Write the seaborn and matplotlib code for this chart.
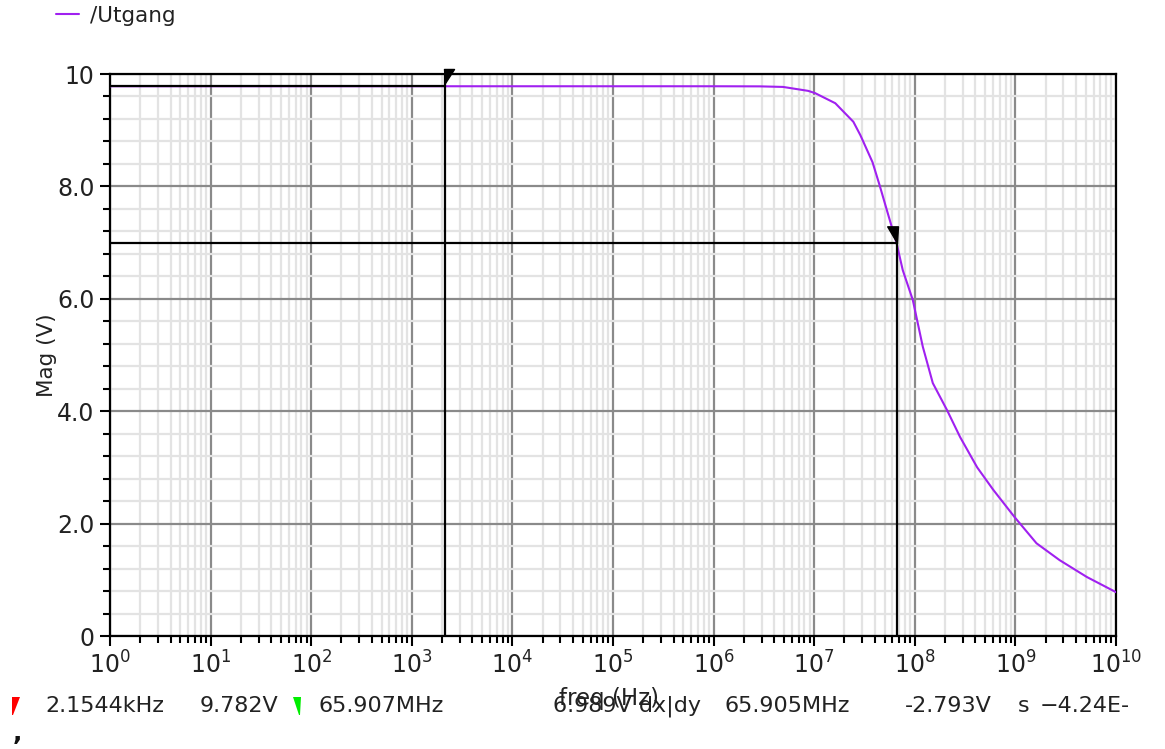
import matplotlib
matplotlib.use("Agg")
import matplotlib.pyplot as plt
import matplotlib.ticker as mticker
from matplotlib.path import Path
from matplotlib.patches import Polygon
from matplotlib.lines import Line2D
import numpy as np
import pandas as pd
import seaborn as sns

# AC sweep of the output node
freq_hz = [1, 10, 100, 1e3, 1e4, 1e5, 1e6, 2.88e6, 4.9e6, 8.7e6, 1.02e7, 1.62e7,
           2.45e7, 2.88e7, 3.8e7, 4.47e7, 5.37e7, 6.5907e7, 7.59e7, 9.55e7, 1.2e8,
           1.51e8, 2.09e8, 2.82e8, 4.17e8, 6.03e8, 9.77e8, 1.62e9, 2.75e9,
           5.13e9, 1e10]
mag_v = [9.782, 9.782, 9.782, 9.782, 9.782, 9.782, 9.782, 9.78, 9.77, 9.70, 9.66,
         9.48, 9.15, 8.91, 8.43, 8.02, 7.53, 6.989, 6.51, 5.98, 5.15, 4.50, 4.02,
         3.54, 3.00, 2.60, 2.12, 1.65, 1.35, 1.05, 0.78]

series_name = "/Utgang"

# cursor readouts
cursor_a = (2154.4, 9.782)
cursor_b = (65.907e6, 6.989)

y_ticks = [0, 2, 4, 6, 8, 10]
y_tick_labels = ["0", "2.0", "4.0", "6.0", "8.0", "10"]

readout_texts = ["2.1544kHz", "9.782V", "65.907MHz", "6.989V dx|dy", "65.905MHz",
                 "-2.793V", "s", "\u22124.24E-"]
readout_x_px = [45, 200, 318, 553, 725, 905, 1018, 1040]

purple = "#A020F0"
W, H = 1165, 749

sns.set_style("ticks")
plt.rcParams["font.family"] = ["DejaVu Sans"]
plt.rcParams["mathtext.default"] = "regular"

fig = plt.figure(figsize=(W / 100, H / 100), dpi=100)
ax = fig.add_axes([110 / W, 1 - 636 / H, (1116 - 110) / W, (636 - 74) / H])

df = pd.DataFrame({"freq": freq_hz, "mag": mag_v})
sns.lineplot(data=df, x="freq", y="mag", ax=ax, color=purple, linewidth=1.5,
             label=series_name, legend=False, zorder=3)

ax.set_xscale("log")
ax.set_xlim(1, 1e10)
ax.set_ylim(0, 10)

ax.xaxis.set_major_locator(mticker.LogLocator(base=10, numticks=20))
ax.xaxis.set_minor_locator(mticker.LogLocator(base=10, subs=np.arange(2, 10), numticks=200))
ax.xaxis.set_minor_formatter(mticker.NullFormatter())
ax.yaxis.set_major_locator(mticker.FixedLocator(y_ticks))
ax.yaxis.set_major_formatter(mticker.FixedFormatter(y_tick_labels))
ax.yaxis.set_minor_locator(mticker.MultipleLocator(0.4))

ax.grid(which="minor", color="#e3e3e3", linewidth=1.6, zorder=0)
ax.grid(which="major", color="#8a8a8a", linewidth=1.6, zorder=1)
ax.set_axisbelow(True)

for s in ax.spines.values():
    s.set_visible(True)
    s.set_color("black")
    s.set_linewidth(1.6)

ax.tick_params(which="major", direction="out", length=7, width=1.5, color="black",
               labelsize=17, labelcolor="#222222", pad=4)
ax.tick_params(which="minor", direction="out", length=5, width=1.5, color="black")

ax.set_xlabel("freq (Hz)", fontsize=16.5, color="#222222")
ax.set_ylabel("Mag (V)", fontsize=15.5, color="#222222")
ax.xaxis.set_label_coords(0.496, -0.090)
ax.yaxis.set_label_coords(-0.053, 0.5)

# cursor lines
fa, va = cursor_a
fb, vb = cursor_b
ax.plot([1, fa], [va, va], color="black", lw=1.6, zorder=4)
ax.plot([fa, fa], [0, 10], color="black", lw=1.6, zorder=4)
ax.plot([1, fb], [vb, vb], color="black", lw=1.6, zorder=4)
ax.plot([fb, fb], [0, vb], color="black", lw=1.6, zorder=4)

# cursor flags
flag_a = Path([(-1, 5), (9, 5), (0, -9), (-1, 5)],
              [Path.MOVETO, Path.LINETO, Path.LINETO, Path.CLOSEPOLY])
flag_b = Path([(-10, 17), (1, 17), (0, 0), (-10, 17)],
              [Path.MOVETO, Path.LINETO, Path.LINETO, Path.CLOSEPOLY])
ax.plot([fa], [10], marker=flag_a, markersize=13, color="black", clip_on=False, zorder=6)
ax.plot([fb], [vb], marker=flag_b, markersize=24, color="black", clip_on=False, zorder=6)

# legend
handle = Line2D([], [], color=purple, lw=1.5)
fig.legend([handle], [series_name], loc="upper left",
           bbox_to_anchor=(56 / W, 1 - 6 / H), frameon=False, fontsize=15.5,
           handlelength=1.05, handletextpad=0.55, borderpad=0, borderaxespad=0,
           labelcolor="#222222")

# readout bar
ty = 1 - 706 / H
for txt, xp in zip(readout_texts, readout_x_px):
    fig.text(xp / W, ty, txt, fontsize=16, color="#222222", va="center", ha="left")

red_flag = [(12, 697), (20, 697), (13, 715), (12, 715)]
green_flag = [(293, 697), (301, 697), (300, 715), (299, 715)]
for pts, c in [(red_flag, "#ff0000"), (green_flag, "#00ee00")]:
    fig.patches.append(Polygon([(x / W, 1 - y / H) for x, y in pts], closed=True,
                               transform=fig.transFigure, facecolor=c, edgecolor="none"))

fig.text(13 / W, 1 - 733 / H, ",", fontsize=18, fontweight="bold", color="#111111",
         va="center", ha="left")

fig.savefig("out.png", dpi=100)
